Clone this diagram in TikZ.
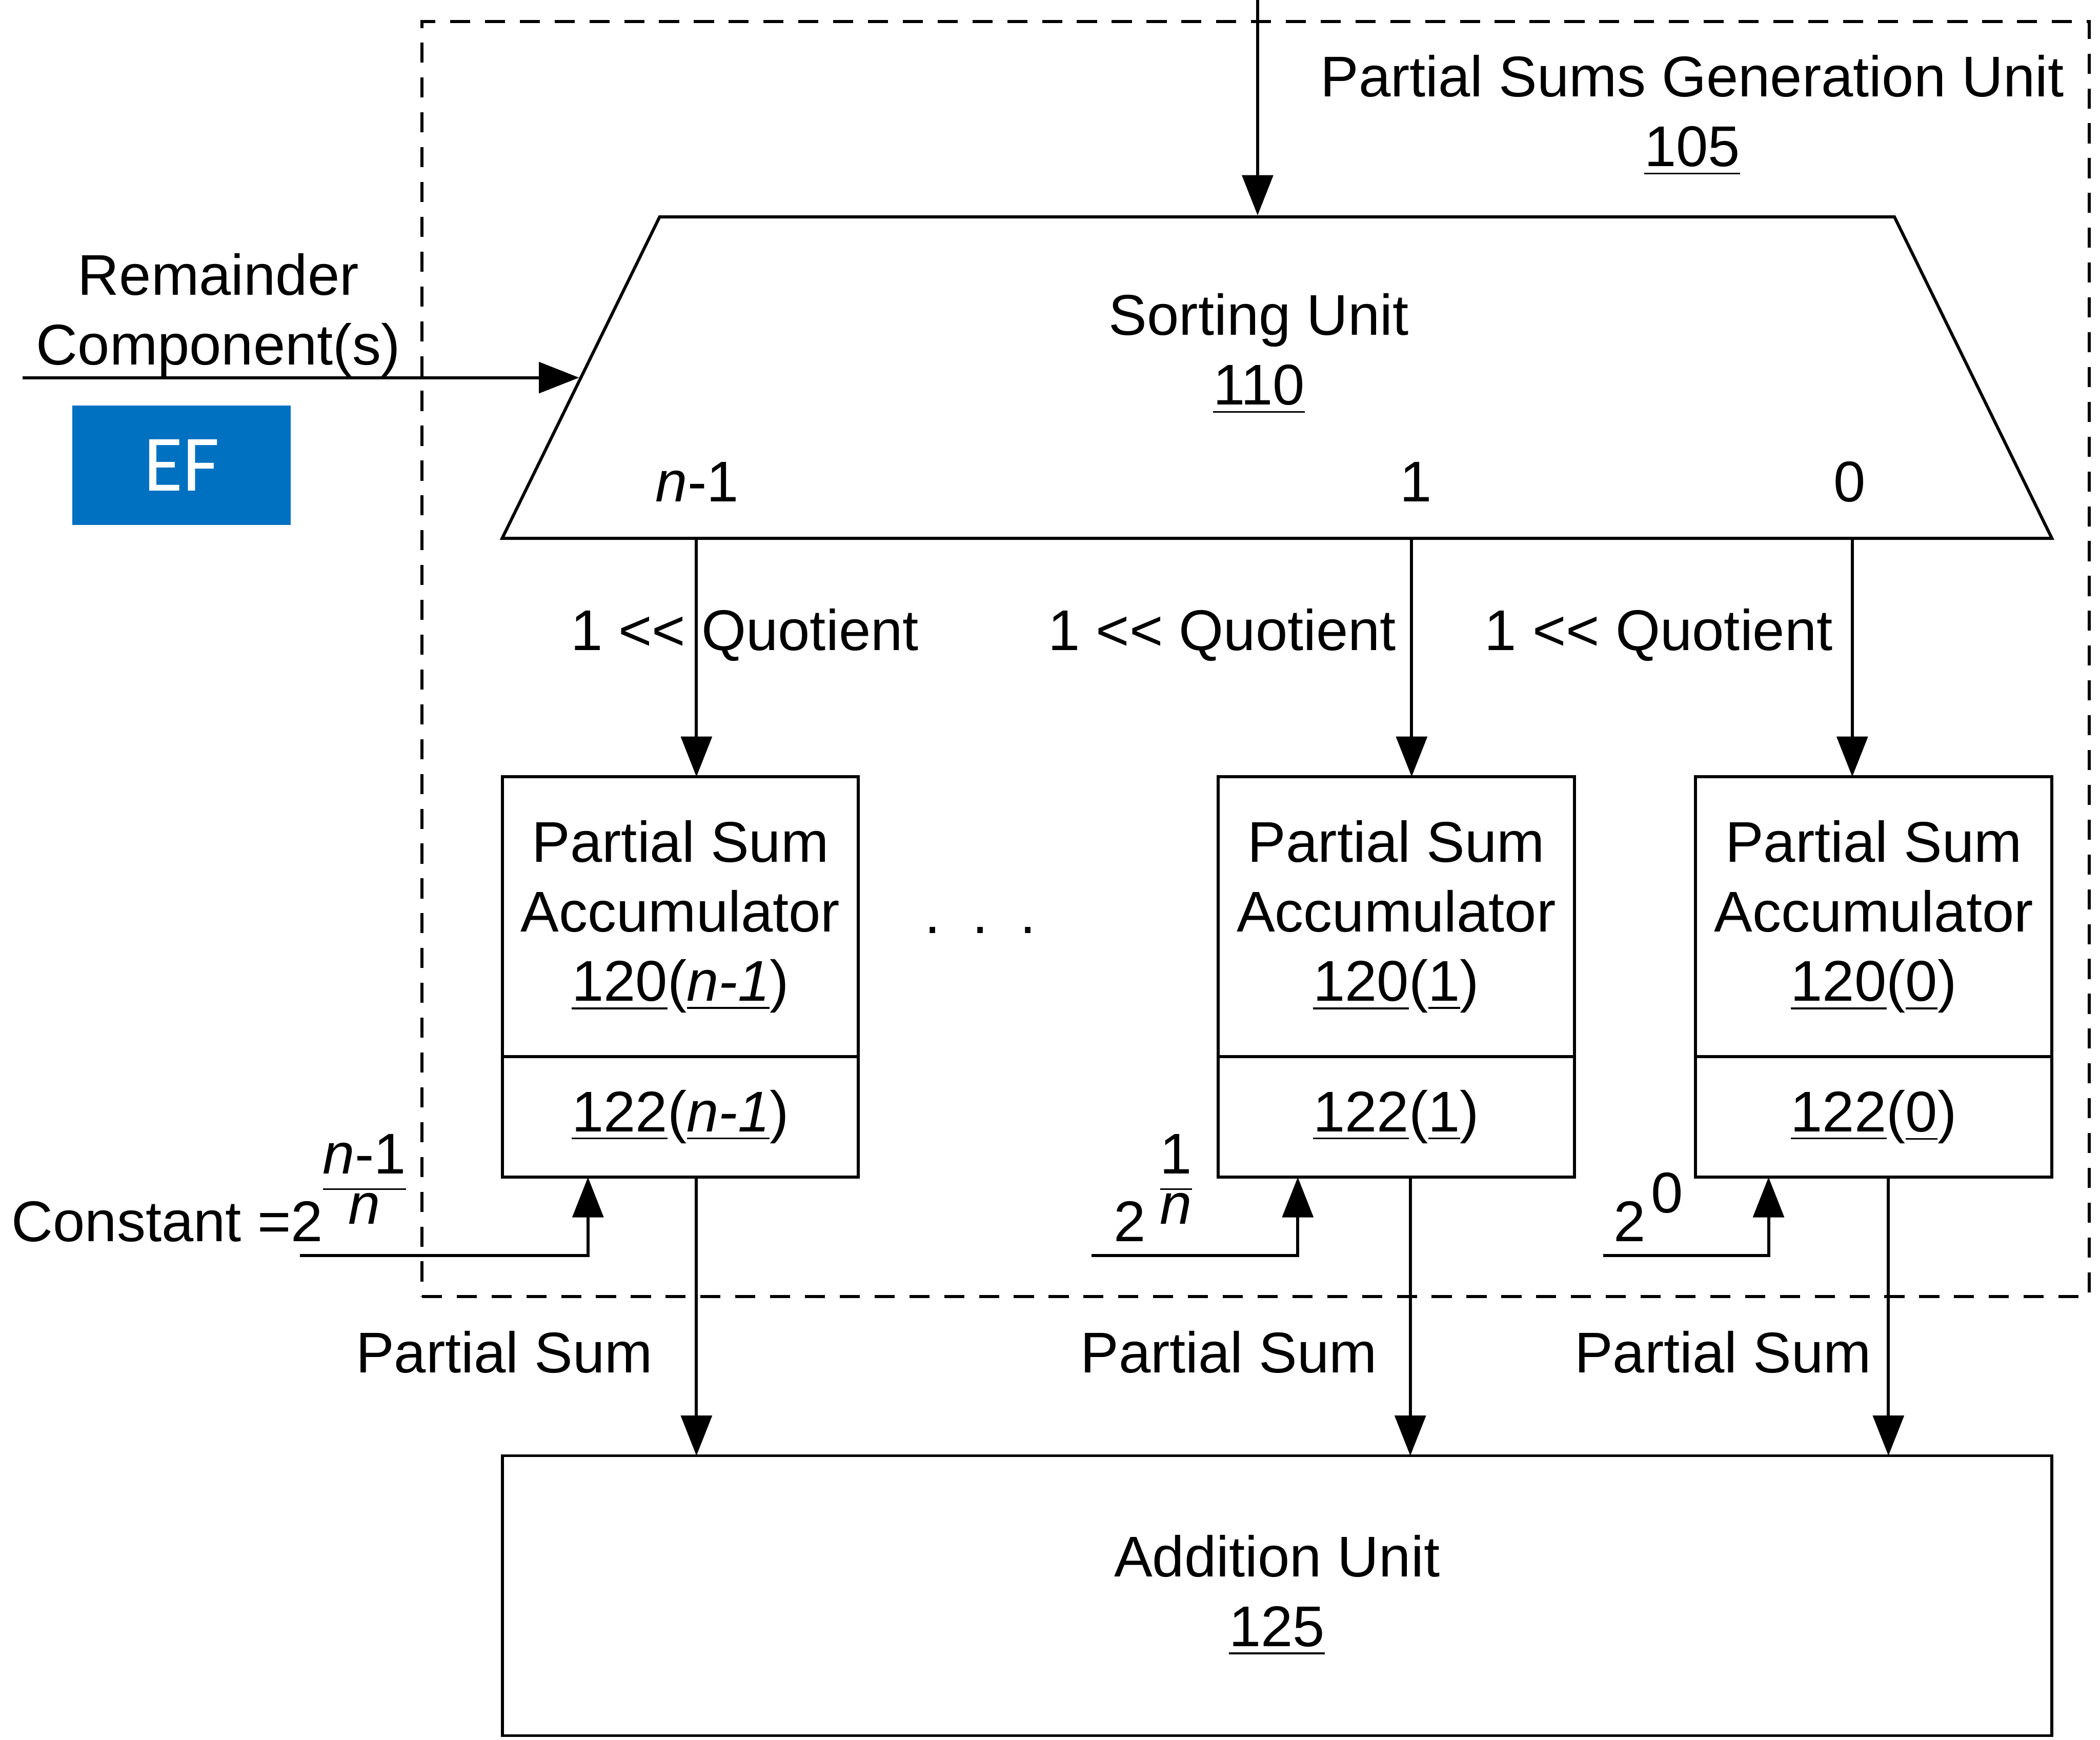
\documentclass[tikz,border=0pt]{standalone}
\usepackage{fontspec}
\setmainfont{Liberation Sans}
\newfontfamily\eflogofont{Carlito}
\usetikzlibrary{arrows.meta,positioning,shapes.geometric,calc}
\definecolor{EFBlue}{HTML}{0070C0}
\newcommand{\expfrac}[2]{\raisebox{0.3em}{\renewcommand{\arraystretch}{0.7}%
  \begin{tabular}[b]{@{}c@{}}#1\\\hline #2\end{tabular}}}
\tikzset{
  arr/.style={-{Triangle[length=0.3cm,width=0.23cm]},line width=0.65pt},
  unitbox/.style={rectangle,draw,line width=0.65pt,outer sep=0pt,
                  inner sep=0pt,align=center},
  accbox/.style={unitbox,minimum width=2.66cm,minimum height=2.09cm},
  regbox/.style={unitbox,minimum width=2.66cm,minimum height=0.90cm},
  sortbox/.style={trapezium,draw,line width=0.65pt,
                  trapezium angle=63.9,inner xsep=4.61cm,inner ysep=1.2cm},
  groupbox/.style={rectangle,draw,line width=0.65pt,
                   dash pattern=on 0.15cm off 0.11cm,
                   minimum width=12.45cm,minimum height=9.52cm},
  lbl/.style={inner sep=0pt,align=center},
}

\begin{document}
\begin{tikzpicture}[font=\fontsize{12.2}{14.8}\selectfont]
  \useasboundingbox (0,0) rectangle (15.68,12.99);

  % partial sums generation unit
  \node[groupbox] (psgu) at (9.375,8.07) {};
  \node[lbl] (psgulbl) at (12.635,12.126)
    {Partial Sums Generation Unit\\\underline{105}};

  % sorting unit
  \node[sortbox] (sort) at (9.535,10.17) {};
  \node[lbl] (sortlbl) at (9.40,10.346) {Sorting Unit\\\underline{110}};
  \node[lbl] (portn) at (5.205,9.392) {\textit{n}-1};
  \node[lbl] (port1) at (10.57,9.392) {1};
  \node[lbl] (port0) at (13.81,9.392) {0};

  \coordinate (topin) at (9.39,12.99);
  \draw[arr] (topin) -- (topin |- sort.north);

  \node[lbl] (remlbl) at (1.63,10.636) {Remainder\\Component(s)};
  \coordinate (remin) at (0.17,10.17);
  \draw[arr] (sort.west -| remin) -- (sort.west);

  \node[fill=EFBlue,minimum width=1.63cm,minimum height=0.89cm,inner sep=0pt,
        text=white,font=\eflogofont\fontsize{17}{17}\selectfont]
    (ef) at (1.355,9.515) {EF};

  % accumulators
  \node[accbox] (acc1) at (5.08,6.145)
    {Partial Sum\\Accumulator\\\underline{120}(\underline{\textit{n-1}})};
  \node[regbox,below=0pt of acc1] (reg1) {\underline{122}(\underline{\textit{n-1}})};
  \node[accbox] (acc2) at (10.425,6.145)
    {Partial Sum\\Accumulator\\\underline{120}(\underline{1})};
  \node[regbox,below=0pt of acc2] (reg2) {\underline{122}(\underline{1})};
  \node[accbox] (acc3) at (13.99,6.145)
    {Partial Sum\\Accumulator\\\underline{120}(\underline{0})};
  \node[regbox,below=0pt of acc3] (reg3) {\underline{122}(\underline{0})};

  \node[lbl,anchor=base] (dots) at (7.32,6.02) {.\hspace{0.55em}.\hspace{0.55em}.};

  \coordinate (q1) at (5.20,0);
  \coordinate (q2) at (10.54,0);
  \coordinate (q3) at (13.83,0);
  \draw[arr] (sort.south -| q1) -- (acc1.north -| q1);
  \draw[arr] (sort.south -| q2) -- (acc2.north -| q2);
  \draw[arr] (sort.south -| q3) -- (acc3.north -| q3);
  \node[lbl] (quo1) at (5.56,8.249)   {1 <\kern0pt< Quotient};
  \node[lbl] (quo2) at (9.125,8.249)  {1 <\kern0pt< Quotient};
  \node[lbl] (quo3) at (12.385,8.249) {1 <\kern0pt< Quotient};

  % constants
  \coordinate (cin1) at (2.24,3.614);
  \coordinate (cin2) at (8.15,3.614);
  \coordinate (cin3) at (11.97,3.614);
  \coordinate (k1) at (4.39,0);
  \coordinate (k2) at (9.69,0);
  \coordinate (k3) at (13.205,0);
  \draw[arr] (cin1) -| (reg1.south -| k1);
  \draw[arr] (cin2) -| (reg2.south -| k2);
  \draw[arr] (cin3) -| (reg3.south -| k3);
  \node[lbl,anchor=base west] (cst1) at (0.08,3.72)
    {Constant =2\expfrac{\textit{n}-1}{\textit{n}}};
  \node[lbl,anchor=base west] (cst2) at (8.31,3.72)
    {2\hspace{0.25em}\expfrac{1}{\textit{n}}};
  \node[lbl,anchor=base west] (cst3) at (12.04,3.72)
    {2\hspace{0.1em}\raisebox{0.5em}{0}};

  % addition unit
  \node[unitbox,minimum width=11.57cm,minimum height=2.09cm] (add)
    at (9.535,1.075) {Addition Unit\\\underline{125}};

  \coordinate (o1) at (5.20,0);
  \coordinate (o2) at (10.53,0);
  \coordinate (o3) at (14.10,0);
  \draw[arr] (reg1.south -| o1) -- (add.north -| o1);
  \draw[arr] (reg2.south -| o2) -- (add.north -| o2);
  \draw[arr] (reg3.south -| o3) -- (add.north -| o3);
  \node[lbl] (ps1) at (3.765,2.892)  {Partial Sum};
  \node[lbl] (ps2) at (9.175,2.892)  {Partial Sum};
  \node[lbl] (ps3) at (12.865,2.892) {Partial Sum};

\end{tikzpicture}
\end{document}
